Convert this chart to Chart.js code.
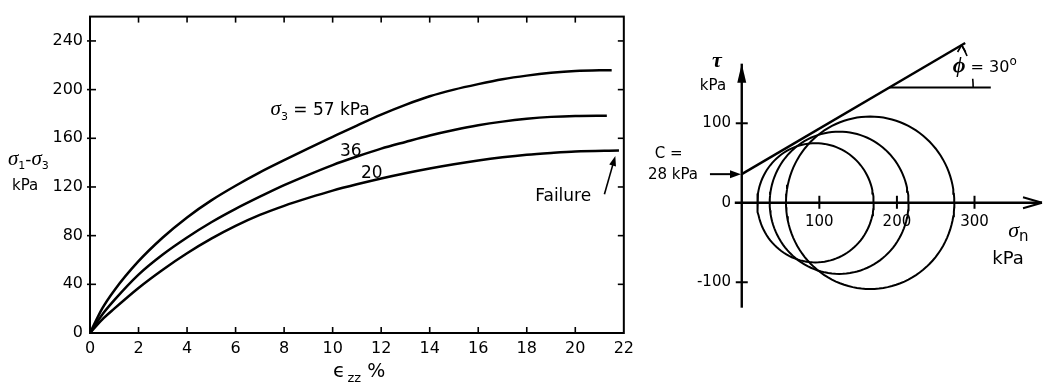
<!DOCTYPE html>
<html><head><meta charset="utf-8">
<script src="https://cdn.jsdelivr.net/npm/chart.js@4.4.1/dist/chart.umd.min.js"></script>
<style>
html,body{margin:0;padding:0;background:#fff;}
#wrap{position:relative;width:1047px;height:384px;overflow:hidden;background:#fff;}
#c1{position:absolute;left:0;top:0;}
#c2{position:absolute;left:640px;top:0;}
</style></head><body>
<div id="wrap"><canvas id="c1" width="640" height="384"></canvas><canvas id="c2" width="407" height="384"></canvas></div>
<script>
// ---------- Left panel: deviator stress vs axial strain ----------
const strain = [0, 0.5, 1, 2, 3, 4, 5, 6, 7, 8, 9, 10, 11, 12, 13, 14, 15, 16, 17, 18, 19, 20];
const dev57 = [0, 20, 35, 59, 78.5, 95, 109, 121, 132, 142, 151.8, 161.2, 170.5, 179.5, 187.5, 194.5, 200, 204.5, 208.5, 211.5, 213.8, 215.3];
const dev36 = [0, 15, 27, 48, 64.5, 78.5, 91, 102, 112, 121.5, 130, 138, 145, 151.5, 157, 162.3, 166.8, 170.7, 173.7, 176, 177.6, 178.4];
const dev20 = [0, 11, 20, 37, 52, 65.5, 77.5, 88, 97, 104.5, 111, 117, 122.2, 127, 131.3, 135.2, 138.7, 141.8, 144.4, 146.5, 148, 149.2];
const failStrain = [21.5, 21.3, 21.8];
const failDev = [216, 178.6, 150];
const strainTicks = [0, 2, 4, 6, 8, 10, 12, 14, 16, 18, 20, 22];
const devTicks = [0, 40, 80, 120, 160, 200, 240];

// ---------- Right panel: Mohr circles ----------
const sigma3 = [20, 36, 57];
const sigma1 = [170, 215, 274];
const envSigma = [0, 288];
const envTau = [36, 201];
const refSigma = [190, 321];
const refTau = [145, 145];
const sigmaAxisEnds = [-9, 387];
const tauAxisEnds = [-132, 175];
const sigmaTicks = [100, 200, 300];
const tauTicks = [100, 0, -100];

const SANS = 'DejaVu Sans';
const SERIF = 'Liberation Serif';

function pts(xs, ys) { return xs.map((v, i) => ({x: v, y: ys[i]})); }
function rich(ctx, x, y, parts) {
  ctx.textAlign = 'left'; ctx.textBaseline = 'alphabetic'; ctx.fillStyle = '#000';
  let cx = x;
  for (const [t, f, dy] of parts) { ctx.font = f; ctx.fillText(t, cx, y + (dy || 0)); cx += ctx.measureText(t).width; }
}
function seg(ctx, x0, y0, x1, y1) { ctx.beginPath(); ctx.moveTo(x0, y0); ctx.lineTo(x1, y1); ctx.stroke(); }
function head(ctx, x0, y0, x1, y1, len, w) {
  const a = Math.atan2(y1 - y0, x1 - x0), c = Math.cos(a), s = Math.sin(a);
  ctx.beginPath(); ctx.moveTo(x1, y1);
  ctx.lineTo(x1 - len * c + w * s, y1 - len * s - w * c);
  ctx.lineTo(x1 - len * c - w * s, y1 - len * s + w * c);
  ctx.closePath(); ctx.fill();
}

const curve = (xs, ys, fx, fy) => ({
  data: pts(xs.concat([fx]), ys.concat([fy])),
  borderColor: '#000', borderWidth: 2.5, pointRadius: 0, fill: false,
  cubicInterpolationMode: 'monotone'
});

const leftDecor = {
  id: 'leftDecor',
  afterDraw(chart) {
    const {ctx, chartArea: a, scales: {x, y}} = chart;
    ctx.save();
    ctx.strokeStyle = '#000'; ctx.fillStyle = '#000';
    ctx.lineWidth = 2;
    ctx.strokeRect(a.left, a.top, a.right - a.left, a.bottom - a.top);
    ctx.lineWidth = 1.6;
    x.ticks.forEach(t => {
      const px = x.getPixelForValue(t.value);
      if (px <= a.left + 1 || px >= a.right - 1) return;
      seg(ctx, px, a.bottom, px, a.bottom - 6);
      seg(ctx, px, a.top, px, a.top + 6);
    });
    y.ticks.forEach(t => {
      const py = y.getPixelForValue(t.value);
      if (py >= a.bottom - 1) return;
      seg(ctx, a.left - 3, py, a.left + 6, py);
      seg(ctx, a.right, py, a.right - 6, py);
    });
    // curve labels
    const X = v => x.getPixelForValue(v), Y = v => y.getPixelForValue(v);
    rich(ctx, X(7.44), Y(179), [['σ', 'italic 21px ' + SERIF], ['3', '11px ' + SANS, 5], [' = 57 kPa', '17px ' + SANS]]);
    rich(ctx, X(10.3), Y(145.6), [['36', '17px ' + SANS]]);
    rich(ctx, X(11.17), Y(127.2), [['20', '17px ' + SANS]]);
    rich(ctx, X(18.35), Y(108.8), [['Failure', '17px ' + SANS]]);
    ctx.lineWidth = 1.6;
    const ax0 = X(21.2), ay0 = Y(114), ax1 = X(21.65), ay1 = Y(145.5);
    seg(ctx, ax0, ay0, ax1 - (ax1 - ax0) * 0.2, ay1 - (ay1 - ay0) * 0.2);
    head(ctx, ax0, ay0, ax1, ay1, 10, 3.5);
    // axis titles
    rich(ctx, 8, 165, [['σ', 'italic 21px ' + SERIF], ['1', '11px ' + SANS, 4], ['-', '17px ' + SANS], ['σ', 'italic 21px ' + SERIF], ['3', '11px ' + SANS, 4]]);
    rich(ctx, 12, 190, [['kPa', '15px ' + SANS]]);
    rich(ctx, 333, 377, [['ϵ', '20px ' + SANS], [' ', '7px ' + SANS], ['zz', '13px ' + SANS, 5], [' %', '19px ' + SANS]]);
    ctx.restore();
  }
};

new Chart(document.getElementById('c1'), {
  type: 'line',
  data: {
    datasets: [
      curve(strain, dev57, failStrain[0], failDev[0]),
      curve(strain, dev36, failStrain[1], failDev[1]),
      curve(strain, dev20, failStrain[2], failDev[2])
    ]
  },
  options: {
    responsive: false, animation: false, events: [],
    layout: {padding: {left: 0, top: 7, right: 12, bottom: 0}},
    plugins: {legend: {display: false}, tooltip: {enabled: false}},
    scales: {
      x: {
        type: 'linear', min: 0, max: 22,
        afterBuildTicks(s) { s.ticks = strainTicks.map(v => ({value: v})); },
        ticks: {color: '#000', font: {family: SANS, size: 16}, padding: 6, maxRotation: 0, autoSkip: false},
        grid: {display: false, drawTicks: false},
        border: {display: false},
        afterFit(s) { s.height = 51; }
      },
      y: {
        type: 'linear', min: 0, max: 260,
        afterBuildTicks(s) { s.ticks = devTicks.map(v => ({value: v})); },
        ticks: {color: '#000', font: {family: SANS, size: 16}, padding: 7},
        grid: {display: false, drawTicks: false},
        border: {display: false},
        afterFit(s) { s.width = 90; }
      }
    }
  },
  plugins: [leftDecor]
});

// ---------- Right chart ----------
function circle(s3, s1) {
  const c = (s1 + s3) / 2, r = (s1 - s3) / 2, out = [];
  for (let k = 0; k <= 120; k++) { const t = k * Math.PI / 60; out.push({x: c + r * Math.cos(t), y: r * Math.sin(t)}); }
  return out;
}
const lineDs = (data, w) => ({data, showLine: true, borderColor: '#000', borderWidth: w, pointRadius: 0, fill: false, clip: false, tension: 0});

const rightDecor = {
  id: 'rightDecor',
  afterDraw(chart) {
    const {ctx, scales: {x, y}} = chart;
    const X = v => x.getPixelForValue(v), Y = v => y.getPixelForValue(v);
    ctx.save();
    ctx.strokeStyle = '#000'; ctx.fillStyle = '#000';
    // sigma axis arrow (open)
    const tx = X(sigmaAxisEnds[1]), ty = Y(0);
    ctx.lineWidth = 2;
    seg(ctx, tx, ty, tx - 19, ty - 5.5);
    seg(ctx, tx, ty, tx - 19, ty + 5.5);
    // tau axis arrow (filled)
    const ux = X(0), uy = Y(tauAxisEnds[1]);
    ctx.beginPath(); ctx.moveTo(ux, uy); ctx.lineTo(ux - 4.5, uy + 19); ctx.lineTo(ux + 4.5, uy + 19); ctx.closePath(); ctx.fill();
    // cross ticks
    ctx.lineWidth = 2;
    sigmaTicks.forEach(v => seg(ctx, X(v), Y(0) - 7, X(v), Y(0) + 6));
    tauTicks.forEach(v => { if (v !== 0) seg(ctx, X(0) - 6, Y(v), X(0) + 6, Y(v)); });
    // C arrow
    ctx.lineWidth = 2;
    const cy = Y(envTau[0]);
    seg(ctx, X(-41), cy, X(-8), cy);
    head(ctx, X(-41), cy, X(-1), cy, 11, 4);
    // phi arc
    const cx0 = X(refSigma[0]), cy0 = Y(refTau[0]);
    const ang = Math.atan2(Y(envTau[0]) - Y(envTau[1]), X(envSigma[1]) - X(envSigma[0]));
    const R = 84;
    ctx.lineWidth = 1.6;
    ctx.beginPath(); ctx.arc(cx0, cy0, R, -ang, -22 * Math.PI / 180); ctx.stroke();
    ctx.beginPath(); ctx.arc(cx0, cy0, R, -6 * Math.PI / 180, 0); ctx.stroke();
    const ex = cx0 + R * Math.cos(ang), ey = cy0 - R * Math.sin(ang);
    seg(ctx, ex, ey, ex - 4, ey + 7);
    seg(ctx, ex, ey, ex + 4, ey + 7);
    // labels
    rich(ctx, X(-38.4), Y(171), [['τ', 'italic bold 22px ' + SERIF]]);
    rich(ctx, X(-54), Y(142.5), [['kPa', '15px ' + SANS]]);
    rich(ctx, X(-112), Y(56), [['C =', '15px ' + SANS]]);
    rich(ctx, X(-121), Y(30), [['28 kPa', '15px ' + SANS]]);
    rich(ctx, X(272), Y(165), [['ϕ', 'bold italic 22px ' + SERIF], [' = 30', '16px ' + SANS], ['o', '12px ' + SANS, -7]]);
    rich(ctx, X(343.5), Y(-42.5), [['σ', 'italic 22px ' + SERIF], ['n', '15px ' + SANS, 4]]);
    rich(ctx, X(323), Y(-77.5), [['kPa', '18px ' + SANS]]);
    ctx.restore();
  }
};

const rightData = [
  lineDs(pts(sigmaAxisEnds, [0, 0]), 2.4),
  lineDs(pts([0, 0], tauAxisEnds), 2.4),
  lineDs(pts(envSigma, envTau), 2.4),
  lineDs(pts(refSigma, refTau), 2),
  ...sigma3.map((s, i) => lineDs(circle(s, sigma1[i]), 2))
];

new Chart(document.getElementById('c2'), {
  type: 'scatter',
  data: {datasets: rightData},
  options: {
    responsive: false, animation: false, events: [],
    layout: {padding: {left: 0, top: 10, right: 5, bottom: 62}},
    plugins: {legend: {display: false}, tooltip: {enabled: false}},
    scales: {
      x: {
        type: 'linear', min: -10, max: 387, position: {y: 0},
        afterBuildTicks(s) { s.ticks = sigmaTicks.map(v => ({value: v})); },
        ticks: {color: '#000', font: {family: SANS, size: 15}, padding: 10, maxRotation: 0, autoSkip: false},
        grid: {display: false, drawTicks: false},
        border: {display: false}
      },
      y: {
        type: 'linear', min: -150, max: 240, position: 'left',
        afterBuildTicks(s) { s.ticks = tauTicks.map(v => ({value: v})); },
        ticks: {color: '#000', font: {family: SANS, size: 15}, padding: 3},
        grid: {display: false, drawTicks: false},
        border: {display: false},
        afterFit(s) { s.width = 94; }
      }
    }
  },
  plugins: [rightDecor]
});
</script>
</body></html>
